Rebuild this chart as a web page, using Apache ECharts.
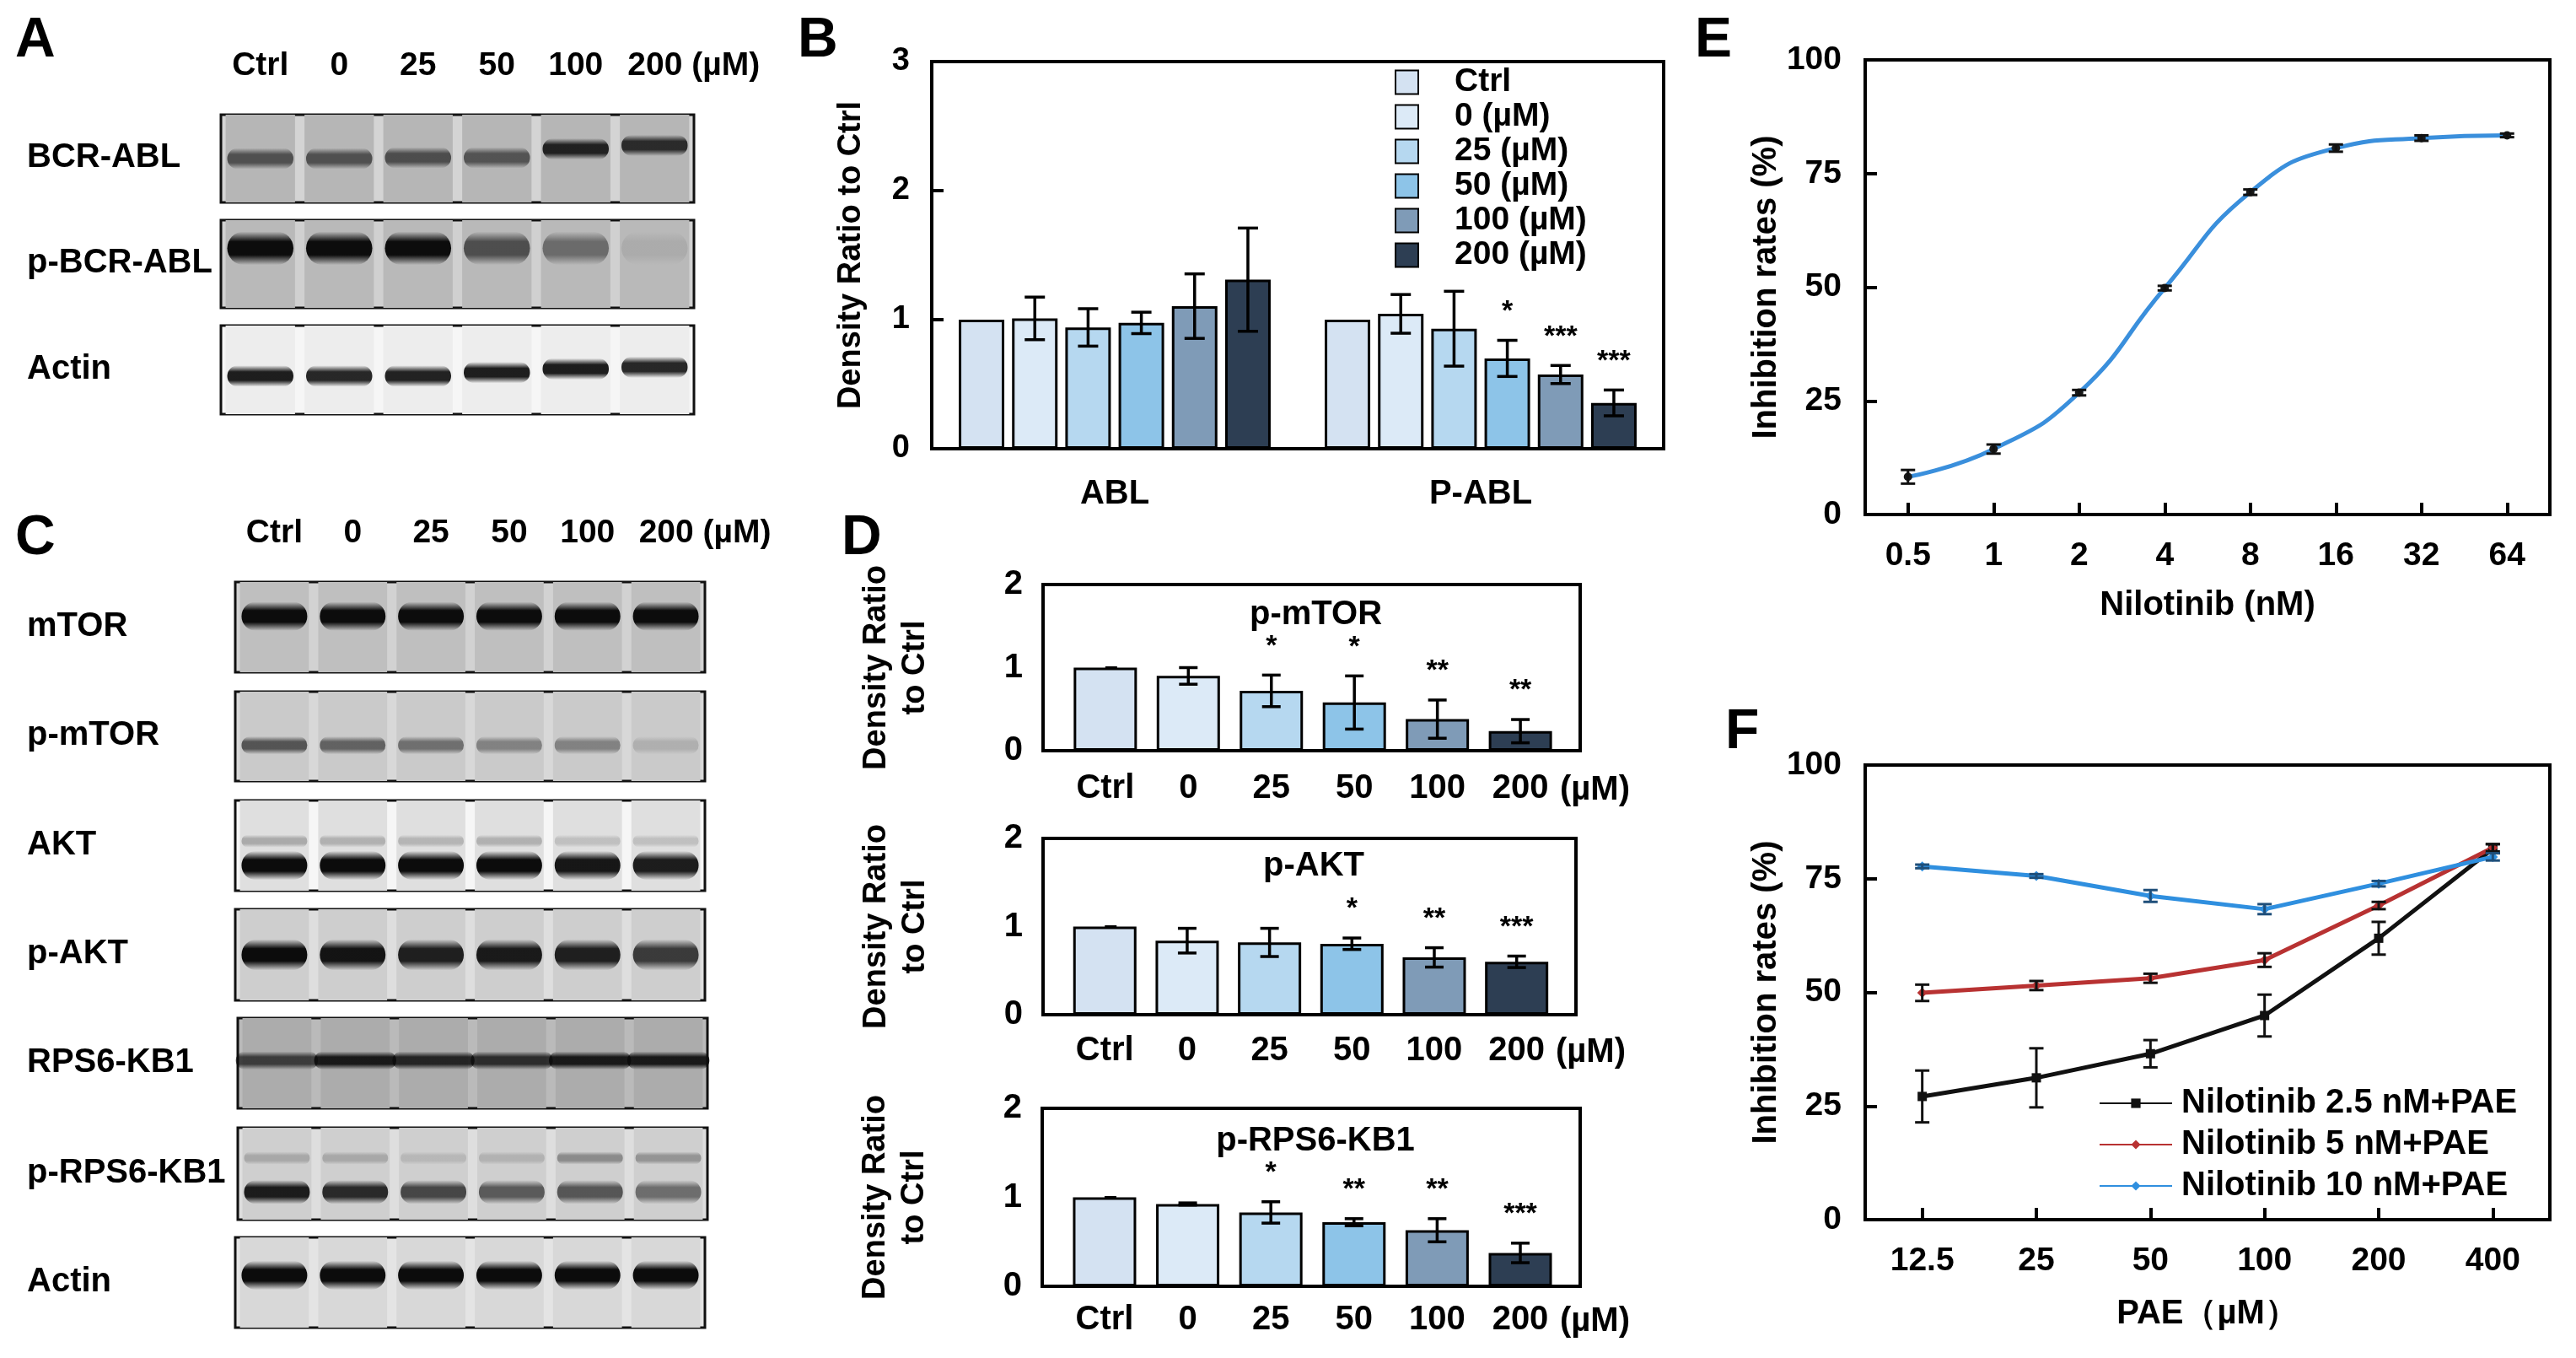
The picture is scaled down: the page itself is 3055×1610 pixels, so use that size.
<!DOCTYPE html>
<html>
<head>
<meta charset="utf-8">
<script src="https://cdn.jsdelivr.net/npm/echarts@6/dist/echarts.min.js"></script>
<style>
  html, body { margin: 0; padding: 0; background: #fff; }
  #main { width: 3055px; height: 1610px; }
</style>
</head>
<body>
<div id="main"></div>
<script>
// ---- data ----
var lanes = ['Ctrl', '0', '25', '50', '100', '200'];
var doseLabels = ['Ctrl', '0 (µM)', '25 (µM)', '50 (µM)', '100 (µM)', '200 (µM)'];

// western blot band intensity per lane (0 = none, 1 = saturated)
var bcrAblBand = [0.6, 0.6, 0.62, 0.58, 0.88, 0.82];
var pBcrAblBand = [1, 1, 1, 0.62, 0.45, 0.08];
var actinABand = [0.92, 0.88, 0.9, 0.92, 0.92, 0.88];
var mtorBand = [1, 1, 1, 1, 1, 1];
var pMtorBand = [0.62, 0.55, 0.48, 0.38, 0.38, 0.14];
var aktUpperBand = [0.25, 0.22, 0.2, 0.22, 0.15, 0.15];
var aktBand = [1, 1, 1, 1, 0.95, 0.92];
var pAktBand = [1, 0.96, 0.9, 0.93, 0.9, 0.76];
var rps6Band = [0.7, 0.92, 0.85, 0.8, 0.92, 0.92];
var pRps6UpperBand = [0.2, 0.2, 0.12, 0.15, 0.35, 0.3];
var pRps6Band = [0.92, 0.85, 0.7, 0.6, 0.62, 0.5];
var actinCBand = [1, 1, 1, 1, 1, 1];

// panel B
var densityGroups = ['ABL', 'P-ABL'];
var ablMean = [1.0, 1.01, 0.94, 0.975, 1.105, 1.31];
var ablErr = [0, 0.165, 0.145, 0.083, 0.25, 0.40];
var ablSig = ['', '', '', '', '', ''];
var pAblMean = [1.0, 1.045, 0.93, 0.70, 0.575, 0.355];
var pAblErr = [0, 0.15, 0.29, 0.14, 0.07, 0.10];
var pAblSig = ['', '', '', '*', '***', '***'];

// panel D
var pMtorMean = [1.0, 0.90, 0.72, 0.58, 0.38, 0.235];
var pMtorErr = [0, 0.10, 0.19, 0.32, 0.23, 0.14];
var pMtorSig = ['', '', '*', '*', '**', '**'];
var pAktMean = [1.0, 0.84, 0.82, 0.805, 0.65, 0.60];
var pAktErr = [0, 0.14, 0.16, 0.065, 0.11, 0.065];
var pAktSig = ['', '', '', '*', '**', '***'];
var pRps6Mean = [1.0, 0.925, 0.83, 0.72, 0.63, 0.375];
var pRps6Err = [0, 0.012, 0.12, 0.04, 0.13, 0.11];
var pRps6Sig = ['', '', '*', '**', '**', '***'];

// panel E
var nilotinibDoses = ['0.5', '1', '2', '4', '8', '16', '32', '64'];
var nilotinibInhib = [8.3, 14.4, 26.8, 49.8, 70.9, 80.6, 82.8, 83.4];
var nilotinibErr = [1.5, 1.0, 0.6, 0.5, 0.6, 0.8, 0.6, 0.4];

// panel F
var paeDoses = ['12.5', '25', '50', '100', '200', '400'];
var comboNames = ['Nilotinib 2.5 nM+PAE', 'Nilotinib 5 nM+PAE', 'Nilotinib 10 nM+PAE'];
var combo25 = [27.1, 31.2, 36.5, 44.9, 61.9, 81.6];
var combo25Err = [5.7, 6.5, 3.0, 4.6, 3.6, 1.0];
var combo5 = [49.9, 51.5, 53.1, 57.1, 69.1, 81.8];
var combo5Err = [1.8, 1.0, 1.0, 1.5, 0.8, 0.8];
var combo10 = [77.7, 75.6, 71.2, 68.3, 73.9, 79.8];
var combo10Err = [0.4, 0.4, 1.3, 1.1, 0.6, 0.8];

// ---- styles ----
var FONT = 'Liberation Sans';
var barColors = ['#d4e2f2', '#dceaf7', '#b6d8f0', '#8dc4e8', '#7f9bb7', '#2d3e53'];
var lineColors = ['#111111', '#b83232', '#2f8fdf'];

var grids = [], xAxes = [], yAxes = [], series = [], titles = [], graphics = [];

function txt(size, extra) {
  var s = { fontFamily: FONT, fontWeight: 'bold', fontSize: size, color: '#000' };
  for (var k in extra) { s[k] = extra[k]; }
  return s;
}

// "200 (µM)" is padded on the left so that "200" stays centred on its lane
function unitLabel(v) {
  return v === '200' ? '{pad|}200 (µM)' : v;
}

function addLetter(ch, x, y) {
  graphics.push({ type: 'text', left: x, top: y,
    style: { text: ch, font: 'bold 66px ' + FONT, fill: '#000' } });
}

// ---- western blots ----
function blotRender(cfg) {
  return function (params, api) {
    var i = api.value(0);
    var laneW = api.size([1, 0])[0];
    var top = api.coord([i, 0]);
    var bot = api.coord([i, 1]);
    var boxH = bot[1] - top[1];
    var children = [{
      type: 'rect',
      shape: { x: top[0] - laneW * 0.44, y: top[1], width: laneW * 0.88, height: boxH },
      style: { fill: cfg.lane }
    }];
    cfg.bands.forEach(function (b, k) {
      var v = api.value(k + 1);
      if (!v) { return; }
      var pos = Array.isArray(b.pos) ? b.pos[i] : b.pos;
      var c = api.coord([i, pos]);
      var h = boxH * b.h;
      var w = laneW * (b.w || 0.84);
      var col = 'rgba(12,12,12,' + v + ')';
      children.push({
        type: 'rect',
        shape: { x: c[0] - w / 2, y: c[1] - h / 2, width: w, height: h, r: h / 2 },
        style: { fill: { type: 'linear', x: 0, y: 0, x2: 0, y2: 1, colorStops: [
          { offset: 0, color: 'rgba(12,12,12,0)' },
          { offset: 0.3, color: col },
          { offset: 0.7, color: col },
          { offset: 1, color: 'rgba(12,12,12,0)' }
        ] } }
      });
    });
    return { type: 'group', children: children };
  };
}

function addBlot(cfg) {
  var gi = grids.length;
  grids.push({ left: cfg.x, top: cfg.y, width: cfg.w, height: cfg.h, show: true,
    backgroundColor: cfg.bg, borderColor: '#111', borderWidth: 3 });
  var xa = { type: 'category', gridIndex: gi, data: lanes, boundaryGap: true,
    axisLine: { show: false }, axisTick: { show: false }, axisLabel: { show: false },
    splitLine: { show: false } };
  if (cfg.header) {
    xa.position = 'top';
    xa.axisLabel = { show: true, margin: cfg.header, interval: 0, formatter: unitLabel,
      showMinLabel: true, showMaxLabel: true,
      fontFamily: FONT, fontWeight: 'bold', fontSize: 39, color: '#000',
      rich: { pad: { width: 93 } } };
  }
  xAxes.push(xa);
  yAxes.push({ type: 'value', gridIndex: gi, min: 0, max: 1, inverse: true, show: false });
  var ai = xAxes.length - 1;
  series.push({
    type: 'custom', xAxisIndex: ai, yAxisIndex: ai, silent: true,
    encode: { x: 0, y: 1 },
    data: lanes.map(function (l, i) {
      return [i].concat(cfg.bands.map(function (b) { return b.vals[i]; }));
    }),
    renderItem: blotRender(cfg)
  });
  graphics.push({ type: 'text', left: 32, top: cfg.y + cfg.h / 2 - 21,
    style: { text: cfg.name, font: 'bold 40px ' + FONT, fill: '#000' } });
}

// panel A blots
addBlot({ name: 'BCR-ABL', x: 262, y: 136, w: 561, h: 104, bg: '#d4d4d4', lane: '#b6b6b6', header: 38,
  bands: [{ vals: bcrAblBand, pos: [0.5, 0.5, 0.49, 0.49, 0.39, 0.35], h: 0.24 }] });
addBlot({ name: 'p-BCR-ABL', x: 262, y: 261, w: 561, h: 104, bg: '#d0d0d0', lane: '#b9b9b9',
  bands: [{ vals: pBcrAblBand, pos: 0.32, h: 0.38 }] });
addBlot({ name: 'Actin', x: 262, y: 386, w: 561, h: 105, bg: '#f6f6f6', lane: '#ededed',
  bands: [{ vals: actinABand, pos: [0.57, 0.57, 0.57, 0.53, 0.49, 0.47], h: 0.24 }] });

// panel C blots
addBlot({ name: 'mTOR', x: 279, y: 690, w: 557, h: 107, bg: '#d2d2d2', lane: '#bfbfbf', header: 38,
  bands: [{ vals: mtorBand, pos: 0.38, h: 0.32 }] });
addBlot({ name: 'p-mTOR', x: 279, y: 820, w: 557, h: 106, bg: '#d8d8d8', lane: '#cacaca',
  bands: [{ vals: pMtorBand, pos: 0.6, h: 0.2 }] });
addBlot({ name: 'AKT', x: 279, y: 949, w: 557, h: 107, bg: '#f6f6f6', lane: '#dfdfdf',
  bands: [{ vals: aktUpperBand, pos: 0.45, h: 0.14 }, { vals: aktBand, pos: 0.72, h: 0.32 }] });
addBlot({ name: 'p-AKT', x: 279, y: 1078, w: 557, h: 108, bg: '#dedede', lane: '#cecece',
  bands: [{ vals: pAktBand, pos: 0.5, h: 0.34 }] });
addBlot({ name: 'RPS6-KB1', x: 282, y: 1207, w: 557, h: 107, bg: '#bababa', lane: '#acacac',
  bands: [{ vals: rps6Band, pos: 0.47, h: 0.2, w: 1.05 }] });
addBlot({ name: 'p-RPS6-KB1', x: 282, y: 1337, w: 557, h: 109, bg: '#dedede', lane: '#cfcfcf',
  bands: [{ vals: pRps6UpperBand, pos: 0.33, h: 0.14 }, { vals: pRps6Band, pos: 0.7, h: 0.26 }] });
addBlot({ name: 'Actin', x: 279, y: 1467, w: 557, h: 107, bg: '#e4e4e4', lane: '#d8d8d8',
  bands: [{ vals: actinCBand, pos: 0.42, h: 0.32 }] });

// ---- error bar helpers ----
function drawErr(api, x, mean, err, cap, lw, color) {
  var hi = api.coord([0, mean + err]);
  var lo = api.coord([0, mean - err]);
  var out = [];
  if (err > 0) {
    out.push({ type: 'line', shape: { x1: x, y1: hi[1], x2: x, y2: lo[1] }, style: { stroke: color, lineWidth: lw } });
    out.push({ type: 'line', shape: { x1: x - cap / 2, y1: hi[1], x2: x + cap / 2, y2: hi[1] }, style: { stroke: color, lineWidth: lw } });
    out.push({ type: 'line', shape: { x1: x - cap / 2, y1: lo[1], x2: x + cap / 2, y2: lo[1] }, style: { stroke: color, lineWidth: lw } });
  }
  return { top: hi[1], children: out };
}

function sigText(x, y, s) {
  return { type: 'text', x: x, y: y,
    style: { text: s, font: 'bold 34px ' + FONT, fill: '#000', align: 'center', verticalAlign: 'middle' } };
}

// ---- panel B ----
(function () {
  var gi = grids.length;
  grids.push({ left: 1105, top: 73, width: 868, height: 459, show: true, borderColor: '#000', borderWidth: 4 });
  xAxes.push({ type: 'category', gridIndex: gi, data: densityGroups, axisLine: { show: false },
    axisTick: { show: false }, axisLabel: txt(40, { margin: 34 }) });
  yAxes.push({ type: 'value', gridIndex: gi, min: 0, max: 3, interval: 1,
    axisLine: { show: false }, splitLine: { show: false },
    axisTick: { show: true, inside: true, length: 14, lineStyle: { color: '#000', width: 4 } },
    axisLabel: txt(38, { margin: 26 }),
    name: 'Density Ratio to Ctrl', nameLocation: 'middle', nameGap: 76,
    nameTextStyle: txt(38) });
  var ai = xAxes.length - 1;
  var barW = 54, gapRatio = 0.17;
  doseLabels.forEach(function (name, k) {
    series.push({ type: 'bar', name: name, xAxisIndex: ai, yAxisIndex: ai,
      data: [ablMean[k], pAblMean[k]], barWidth: barW, barGap: '17%',
      itemStyle: { color: barColors[k], borderColor: '#000', borderWidth: 3 } });
  });
  var means = [ablMean, pAblMean], errs = [ablErr, pAblErr], sigs = [ablSig, pAblSig];
  var errData = [];
  for (var c = 0; c < 2; c++) {
    for (var k = 0; k < 6; k++) { errData.push([c, means[c][k], errs[c][k], k]); }
  }
  series.push({ type: 'custom', xAxisIndex: ai, yAxisIndex: ai, z: 5, silent: true,
    encode: { x: 0, y: 1 }, data: errData,
    renderItem: function (params, api) {
      var c = api.value(0), m = api.value(1), e = api.value(2), k = api.value(3);
      var gap = barW * gapRatio;
      var off = -(6 * barW + 5 * gap) / 2 + barW / 2 + k * (barW + gap);
      var x = api.coord([c, m])[0] + off;
      var r = drawErr(api, x, m, e, 24, 3.5, '#000');
      if (sigs[c][k]) { r.children.push(sigText(x, r.top - 34, sigs[c][k])); }
      return { type: 'group', children: r.children };
    } });
})();

// ---- panel D ----
function addDensity(cfg, means, errs, sigs) {
  var gi = grids.length;
  var drop = cfg.labelGap + 22;
  grids.push({ left: cfg.x, top: cfg.y, width: cfg.w, height: cfg.h, show: true, borderColor: '#000', borderWidth: 4 });
  xAxes.push({ type: 'value', gridIndex: gi, min: -0.75, max: 5.72,
    axisLine: { show: false }, axisTick: { show: false }, splitLine: { show: false },
    axisLabel: txt(40, { margin: cfg.labelGap, customValues: [0, 1, 2, 3, 4, 5],
      formatter: function (v) { return lanes[Math.round(v)]; } }),
    // unit written after the last lane label, dropped to the label row
    name: '\n(µM)', nameLocation: 'end', nameGap: -24,
    nameTextStyle: txt(40, { lineHeight: 2 * drop }) });
  yAxes.push({ type: 'value', gridIndex: gi, min: 0, max: 2, interval: 1,
    axisLine: { show: false }, splitLine: { show: false },
    axisTick: { show: true, inside: true, length: 14, lineStyle: { color: '#000', width: 4 } },
    axisLabel: txt(40, { margin: 24 }),
    name: 'Density Ratio\nto Ctrl', nameLocation: 'middle', nameGap: 128,
    nameTextStyle: txt(38, { lineHeight: 46 }) });
  var ai = xAxes.length - 1;
  series.push({ type: 'bar', name: cfg.title + ' ratio', xAxisIndex: ai, yAxisIndex: ai,
    barWidth: 75,
    data: means.map(function (v, i) {
      return { value: [i, v], itemStyle: { color: barColors[i], borderColor: '#000', borderWidth: 3 } };
    }) });
  series.push({ type: 'custom', xAxisIndex: ai, yAxisIndex: ai, z: 5, silent: true,
    encode: { x: 0, y: 1 },
    data: means.map(function (v, i) { return [i, v, errs[i]]; }),
    renderItem: function (params, api) {
      var i = api.value(0), m = api.value(1), e = api.value(2);
      var x = api.coord([i, m])[0];
      var r = drawErr(api, x, m, e, 22, 3.5, '#000');
      if (sigs[i]) { r.children.push(sigText(x, r.top - 34, sigs[i])); }
      return { type: 'group', children: r.children };
    } });
  titles.push({ text: cfg.title, left: cfg.x + cfg.w / 2, top: cfg.titleY, textAlign: 'center',
    textStyle: txt(40) });
}

addDensity({ x: 1237, y: 693, w: 637, h: 197, title: 'p-mTOR', titleY: 704, labelGap: 25 }, pMtorMean, pMtorErr, pMtorSig);
addDensity({ x: 1237, y: 994, w: 632, h: 209, title: 'p-AKT', titleY: 1002, labelGap: 23 }, pAktMean, pAktErr, pAktSig);
addDensity({ x: 1236, y: 1314, w: 638, h: 211, title: 'p-RPS6-KB1', titleY: 1328, labelGap: 20 }, pRps6Mean, pRps6Err, pRps6Sig);

// ---- panels E and F ----
function addDoseGrid(top, cats, nameX, nameGap) {
  var gi = grids.length;
  grids.push({ left: 2212, top: top, width: 812, height: 539, show: true, borderColor: '#000', borderWidth: 4 });
  xAxes.push({ type: 'category', gridIndex: gi, data: cats, boundaryGap: true,
    axisLine: { show: false },
    axisTick: { show: true, inside: true, alignWithLabel: true, length: 14, lineStyle: { color: '#000', width: 4 } },
    axisLabel: txt(39, { margin: 30 }),
    name: nameX, nameLocation: 'middle', nameGap: nameGap, nameTextStyle: txt(40) });
  yAxes.push({ type: 'value', gridIndex: gi, min: 0, max: 100, interval: 25,
    axisLine: { show: false }, splitLine: { show: false },
    axisTick: { show: true, inside: true, length: 14, lineStyle: { color: '#000', width: 4 } },
    axisLabel: txt(39, { margin: 28 }),
    name: 'Inhibition rates (%)', nameLocation: 'middle', nameGap: 92, nameTextStyle: txt(40) });
  return xAxes.length - 1;
}

function addErrSeries(ai, vals, errs, color) {
  series.push({ type: 'custom', xAxisIndex: ai, yAxisIndex: ai, z: 5, silent: true,
    encode: { x: 0, y: 1 },
    data: vals.map(function (v, i) { return [i, v, errs[i]]; }),
    renderItem: function (params, api) {
      var x = api.coord([api.value(0), api.value(1)])[0];
      return { type: 'group', children: drawErr(api, x, api.value(1), api.value(2), 17, 3, color).children };
    } });
}

var eAxis = addDoseGrid(71, nilotinibDoses, 'Nilotinib (nM)', 88);
series.push({ type: 'line', name: 'Nilotinib', xAxisIndex: eAxis, yAxisIndex: eAxis,
  data: nilotinibInhib, smooth: 0.5, symbol: 'circle', symbolSize: 10,
  lineStyle: { color: '#3a8fdc', width: 5 }, itemStyle: { color: '#1a1a1a' } });
addErrSeries(eAxis, nilotinibInhib, nilotinibErr, '#111');

var fAxis = addDoseGrid(907, paeDoses, 'PAE（µM）', 92);
var comboVals = [combo25, combo5, combo10];
var comboErrs = [combo25Err, combo5Err, combo10Err];
var comboSymbols = ['rect', 'diamond', 'diamond'];
comboNames.forEach(function (name, k) {
  series.push({ type: 'line', name: name, xAxisIndex: fAxis, yAxisIndex: fAxis,
    data: comboVals[k], symbol: comboSymbols[k], symbolSize: k === 0 ? 11 : 12,
    lineStyle: { color: lineColors[k], width: 5 }, itemStyle: { color: lineColors[k] } });
  addErrSeries(fAxis, comboVals[k], comboErrs[k], k === 2 ? '#1f4f7a' : '#111');
});

// ---- letters ----
addLetter('A', 18, 16);
addLetter('B', 946, 16);
addLetter('C', 18, 606);
addLetter('D', 998, 606);
addLetter('E', 2010, 16);
addLetter('F', 2046, 836);

var myChart = echarts.init(document.getElementById('main'));
myChart.setOption({
  backgroundColor: '#ffffff',
  animation: false,
  textStyle: { fontFamily: FONT },
  title: titles,
  grid: grids,
  xAxis: xAxes,
  yAxis: yAxes,
  legend: [
    { data: doseLabels, orient: 'vertical', left: 1649, top: 73, icon: 'rect',
      itemWidth: 27, itemHeight: 28, itemGap: 2, selectedMode: false,
      textStyle: txt(39, { padding: [0, 0, 0, 38], lineHeight: 36 }) },
    { data: comboNames, orient: 'vertical', left: 2484, top: 1283,
      itemWidth: 86, itemHeight: 14, itemGap: 9, selectedMode: false,
      textStyle: txt(40, { padding: [0, 0, 0, 6], lineHeight: 40 }) }
  ],
  graphic: graphics,
  series: series
});
</script>
</body>
</html>
